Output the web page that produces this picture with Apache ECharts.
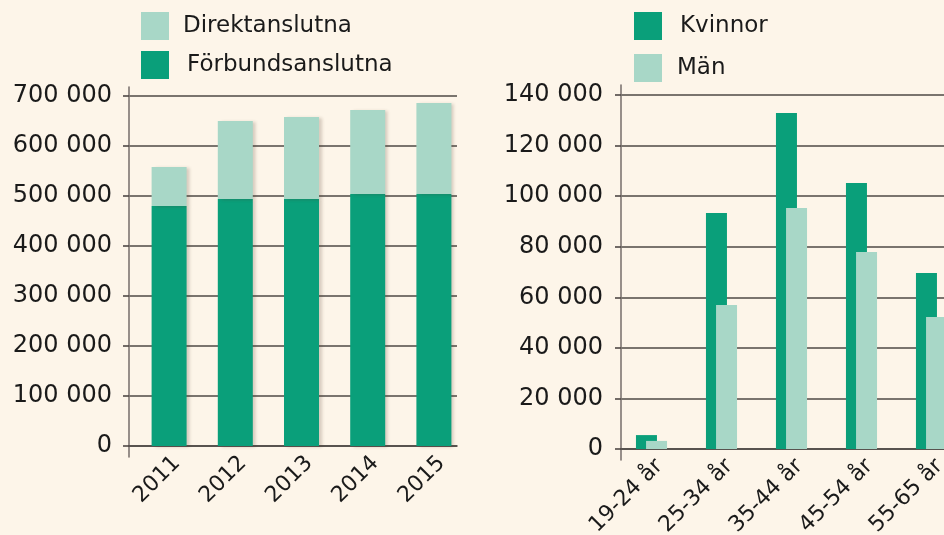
<!DOCTYPE html>
<html>
<head>
<meta charset="utf-8">
<script src="https://cdn.jsdelivr.net/npm/echarts@6/dist/echarts.min.js"></script>
<style>
  html, body { margin: 0; padding: 0; background: #FDF5E9; overflow: hidden; width: 944px; height: 535px; }
  #chart { width: 1000px; height: 535px; }
</style>
</head>
<body>
<div id="chart"></div>
<script>
// ---- Data ----
const years = ['2011', '2012', '2013', '2014', '2015'];
const forbundsanslutna = [480000, 494000, 494000, 504000, 504000];
const direktanslutna = [78000, 156000, 164000, 168000, 182000];

const ages = ['19-24 år', '25-34 år', '35-44 år', '45-54 år', '55-65 år'];
const kvinnor = [5500, 93300, 132900, 105200, 69600];
const man = [3200, 56900, 95300, 77900, 52200];

// ---- Styles ----
const DARK = '#0A9F7A';
const LIGHT = '#A8D7C7';
const GRID = '#4E4845';
const AXIS = '#7D7571';
const TXT = '#1A1A1A';
const FONT = 'DejaVu Sans';

const fmt = v => String(v).replace(/\B(?=(\d{3})+(?!\d))/g, ' ');

const chart = echarts.init(document.getElementById('chart'), null, { renderer: 'canvas' });

function legend(name, left, top, gap) {
  return {
    data: [{ name: name, icon: 'rect' }],
    left: left, top: top, orient: 'vertical', padding: 0,
    itemWidth: 28, itemHeight: 28,
    selectedMode: false,
    textStyle: { fontFamily: FONT, fontSize: 23, color: TXT, padding: [0, 0, 0, gap] }
  };
}

function valueAxis(gridIndex, max, interval, margin, show) {
  return {
    type: 'value', gridIndex: gridIndex, min: 0, max: max, interval: interval,
    show: show,
    axisLine: { show: false },
    axisTick: { show: true, length: 6, lineStyle: { color: GRID, width: 1.6 } },
    axisLabel: { formatter: fmt, fontFamily: FONT, fontSize: 24, color: TXT, margin: margin },
    splitLine: { show: true, lineStyle: { color: GRID, width: 1.6 } }
  };
}

function lineOnlyAxis(gridIndex) {
  return {
    type: 'value', gridIndex: gridIndex, min: 0, max: 1,
    axisLine: { show: true, lineStyle: { color: AXIS, width: 1.6 } },
    axisTick: { show: false }, axisLabel: { show: false }, splitLine: { show: false }
  };
}

function hiddenCat(gridIndex, data) {
  return { type: 'category', gridIndex: gridIndex, data: data, show: false };
}

function grid(left, top, width, height) {
  return { left: left, top: top, width: width, height: height,
           containLabel: false, outerBoundsMode: 'none' };
}

const xLabel = { rotate: 45, fontFamily: FONT, fontSize: 22, color: TXT, margin: 6, interval: 0,
                 align: 'right', verticalAlign: 'top' };

const option = {
  backgroundColor: '#FDF5E9',
  animation: false,
  legend: [
    legend('Direktanslutna', 141, 12, 9),
    legend('Förbundsanslutna', 141, 51, 13),
    legend('Kvinnor', 634, 12, 13),
    legend('Män', 634, 54, 10)
  ],
  grid: [
    grid(129, 96, 328, 350),     // 0 left chart axes/grid
    grid(136, 96, 331, 350),     // 1 left chart bars
    grid(621, 95, 400, 354),     // 2 right chart axes/grid
    grid(616.5, 95, 350, 354),   // 3 right chart bars
    grid(129, 87, 328, 370),     // 4 left vertical axis line
    grid(621, 85, 400, 375)      // 5 right vertical axis line
  ],
  xAxis: [
    { type: 'category', gridIndex: 0, data: years,
      axisLine: { show: true, lineStyle: { color: GRID, width: 1.6 } },
      axisTick: { show: false }, axisLabel: { show: false }, splitLine: { show: false } },
    { type: 'category', gridIndex: 1, data: years,
      axisLine: { show: false }, axisTick: { show: false }, axisLabel: xLabel },
    { type: 'category', gridIndex: 2, data: ages,
      axisLine: { show: true, lineStyle: { color: GRID, width: 1.6 } },
      axisTick: { show: false }, axisLabel: { show: false }, splitLine: { show: false } },
    { type: 'category', gridIndex: 3, data: ages,
      axisLine: { show: false }, axisTick: { show: false }, axisLabel: xLabel },
    hiddenCat(4, years),
    hiddenCat(5, ages)
  ],
  yAxis: [
    valueAxis(0, 700000, 100000, 17, true),
    valueAxis(1, 700000, 100000, 17, false),
    valueAxis(2, 140000, 20000, 18, true),
    valueAxis(3, 140000, 20000, 18, false),
    lineOnlyAxis(4),
    lineOnlyAxis(5)
  ],
  series: [
    { name: 'Förbundsanslutna', type: 'bar', stack: 'tot', xAxisIndex: 1, yAxisIndex: 1,
      data: forbundsanslutna, barWidth: 35,
      itemStyle: { color: DARK, shadowColor: 'rgba(80,60,40,0.22)', shadowBlur: 3, shadowOffsetX: 3, shadowOffsetY: 1 } },
    { name: 'Direktanslutna', type: 'bar', stack: 'tot', xAxisIndex: 1, yAxisIndex: 1,
      data: direktanslutna, barWidth: 35,
      itemStyle: { color: LIGHT, shadowColor: 'rgba(80,60,40,0.22)', shadowBlur: 3, shadowOffsetX: 3, shadowOffsetY: 1 } },
    { name: 'Kvinnor', type: 'bar', xAxisIndex: 3, yAxisIndex: 3,
      data: kvinnor, barWidth: 21, barGap: '-52%',
      itemStyle: { color: DARK } },
    { name: 'Män', type: 'bar', xAxisIndex: 3, yAxisIndex: 3,
      data: man, barWidth: 21, barGap: '-52%',
      itemStyle: { color: LIGHT } }
  ]
};

chart.setOption(option);
</script>
</body>
</html>
